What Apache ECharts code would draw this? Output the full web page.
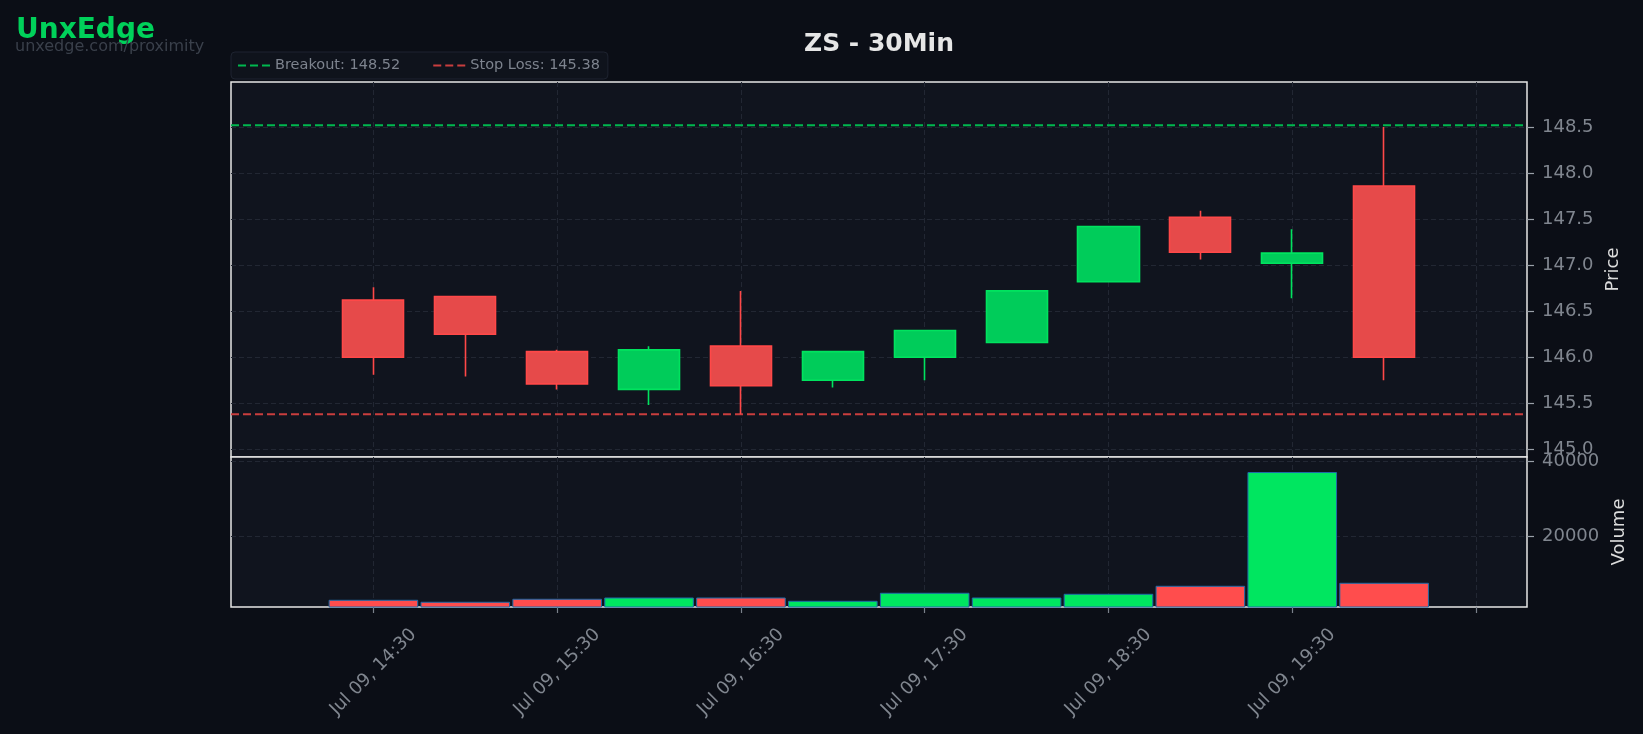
<!DOCTYPE html>
<html><head><meta charset="utf-8">
<script src="https://cdn.jsdelivr.net/npm/echarts@6/dist/echarts.min.js"></script>
<style>html,body{margin:0;padding:0;background:#0b0e16;}#c{width:1643px;height:734px;}</style>
</head><body><div id="c"></div>
<script>
// ---- data ----
const timeLabels = ['Jul 09, 14:30','Jul 09, 15:00','Jul 09, 15:30','Jul 09, 16:00','Jul 09, 16:30','Jul 09, 17:00',
                    'Jul 09, 17:30','Jul 09, 18:00','Jul 09, 18:30','Jul 09, 19:00','Jul 09, 19:30','Jul 09, 20:00'];
const opens  = [146.62,146.66,146.06,145.65,146.12,145.75,146.00,146.16,146.82,147.52,147.02,147.86];
const closes = [146.00,146.25,145.71,146.08,145.69,146.06,146.29,146.72,147.42,147.14,147.13,146.00];
const lows   = [145.81,145.79,145.65,145.48,145.38,145.67,145.75,146.16,146.82,147.06,146.64,145.75];
const highs  = [146.76,146.66,146.08,146.12,146.72,146.07,146.29,146.72,147.42,147.59,147.39,148.50];
const volumes = [3040,2510,3310,3650,3650,2770,4910,3650,4640,6770,37070,7570];
const breakout = 148.52;
const stopLoss = 145.38;
const X0 = 2;
const xRange = [X0 - 1.55, X0 + 12.555];
const priceRange = [144.916, 148.989];
const volRange = [1120, 41070];

// ---- layout ----
const G = {left:231, width:1296, pTop:82, pH:375, vH:150};
const slotPx = G.width / (xRange[1] - xRange[0]);
const UP = '#00cc5a', DOWN = '#e64a4a', UPB = '#00e35f', DOWNB = '#ff4848';
const gridLine = {show:true, showMinLine:false, showMaxLine:false, lineStyle:{color:'#222733', type:[5,3], width:1}};
const lblColor = '#80868f';
const tickColor = '#9aa0a8';
const font = 'DejaVu Sans';

function xFmt(v){
  const r = Math.round(v) - X0;
  return (Math.abs(v - Math.round(v)) < 1e-6 && r >= 0 && r < timeLabels.length) ? timeLabels[r] : '';
}

const chart = echarts.init(document.getElementById('c'), null, {renderer:'canvas'});
chart.setOption({
  animation:false,
  backgroundColor:'#0b0e16',
  textStyle:{fontFamily:font},
  title:[
    {text:'UnxEdge', left:16, top:17, padding:0, textStyle:{fontFamily:font, fontSize:28, fontWeight:'bold', color:'#00d15a'}},
    {text:'unxedge.com/proximity', left:15, top:39, padding:0, textStyle:{fontFamily:font, fontSize:16, fontWeight:'normal', color:'#3a404b'}},
    {text:'ZS - 30Min', left:879, textAlign:'center', top:32, padding:0, textStyle:{fontFamily:font, fontSize:25, fontWeight:'bold', color:'#e6e6e6'}}
  ],
  legend:{
    data:['Breakout: ' + breakout.toFixed(2), 'Stop Loss: ' + stopLoss.toFixed(2)],
    left:231, top:52, orient:'horizontal',
    padding:[6,8,6,6], itemWidth:32, itemHeight:14, itemGap:32,
    backgroundColor:'#0f131c', borderColor:'#1e2330', borderWidth:1, borderRadius:4,
    itemStyle:{color:'rgba(0,0,0,0)', borderColor:'rgba(0,0,0,0)', borderWidth:0, opacity:0},
    textStyle:{fontFamily:font, fontSize:14.5, color:'#7d838e'},
    selectedMode:false
  },
  grid:[
    {left:G.left, top:G.pTop, width:G.width, height:G.pH, show:true, backgroundColor:'#10141e', borderColor:'#e6e6e6', borderWidth:1.5},
    {left:G.left, top:G.pTop+G.pH, width:G.width, height:G.vH, show:true, backgroundColor:'#10141e', borderColor:'#e6e6e6', borderWidth:1.5}
  ],
  xAxis:[
    {type:'value', gridIndex:0, min:xRange[0], max:xRange[1], splitNumber:7,
     axisLine:{show:false, onZero:false}, axisTick:{show:false}, axisLabel:{show:false}, splitLine:gridLine},
    {type:'value', gridIndex:1, min:xRange[0], max:xRange[1], splitNumber:7,
     axisLine:{show:false, onZero:false}, axisTick:{show:true, length:6, lineStyle:{color:'#7a808a', width:1.2}},
     axisLabel:{show:true, rotate:45, align:'center', verticalAlign:'middle', margin:65,
                fontFamily:font, fontSize:18, color:lblColor, formatter:xFmt,
                showMinLabel:false, showMaxLabel:false},
     splitLine:gridLine}
  ],
  yAxis:[
    {type:'value', gridIndex:0, position:'right', min:priceRange[0], max:priceRange[1], splitNumber:8, scale:true,
     axisLine:{show:false, onZero:false}, axisTick:{show:true, length:7, lineStyle:{color:tickColor, width:1.2}},
     axisLabel:{margin:15, fontFamily:font, fontSize:18, color:lblColor, showMinLabel:false, showMaxLabel:false,
                formatter:v => v.toFixed(1)},
     splitLine:gridLine,
     name:'Price', nameLocation:'middle', nameGap:76, nameTextStyle:{fontFamily:font, fontSize:18, color:'#dcdcdc'}},
    {type:'value', gridIndex:1, position:'right', min:volRange[0], max:volRange[1], splitNumber:2, scale:true,
     axisLine:{show:false, onZero:false}, axisTick:{show:true, length:7, lineStyle:{color:tickColor, width:1.2}},
     axisLabel:{margin:15, fontFamily:font, fontSize:18, color:lblColor, showMinLabel:false, showMaxLabel:false,
                formatter:v => String(Math.round(v))},
     splitLine:gridLine,
     name:'Volume', nameLocation:'middle', nameGap:82, nameTextStyle:{fontFamily:font, fontSize:18, color:'#dcdcdc'}}
  ],
  series:[
    {type:'candlestick', name:'price', xAxisIndex:0, yAxisIndex:0,
     data: timeLabels.map((t,i) => [X0 + i, opens[i], closes[i], lows[i], highs[i]]),
     encode:{x:0, y:[1,2,3,4]},
     barWidth: slotPx*0.67,
     itemStyle:{color:UP, color0:DOWN, borderColor:UPB, borderColor0:DOWNB, borderWidth:1.6},
     z:3},
    {type:'line', name:'Breakout: ' + breakout.toFixed(2), xAxisIndex:0, yAxisIndex:0,
     data:[[xRange[0], breakout],[xRange[1], breakout]], symbol:'none', showSymbol:false, silent:true,
     lineStyle:{color:'#00b84f', width:2, type:[8,4]}, itemStyle:{color:'#00b84f'}, z:4},
    {type:'line', name:'Stop Loss: ' + stopLoss.toFixed(2), xAxisIndex:0, yAxisIndex:0,
     data:[[xRange[0], stopLoss],[xRange[1], stopLoss]], symbol:'none', showSymbol:false, silent:true,
     lineStyle:{color:'#c93e3e', width:2, type:[8,4]}, itemStyle:{color:'#c93e3e'}, z:2},
    {type:'bar', name:'volume', xAxisIndex:1, yAxisIndex:1,
     data: volumes.map((v,i) => ({value:[X0 + i, v], itemStyle:{color: closes[i] >= opens[i] ? '#00e660' : '#ff4d4d'}})),
     barWidth: slotPx*0.975,
     itemStyle:{borderColor:'#1f6aa8', borderWidth:1}}
  ]
});
</script>
</body></html>
